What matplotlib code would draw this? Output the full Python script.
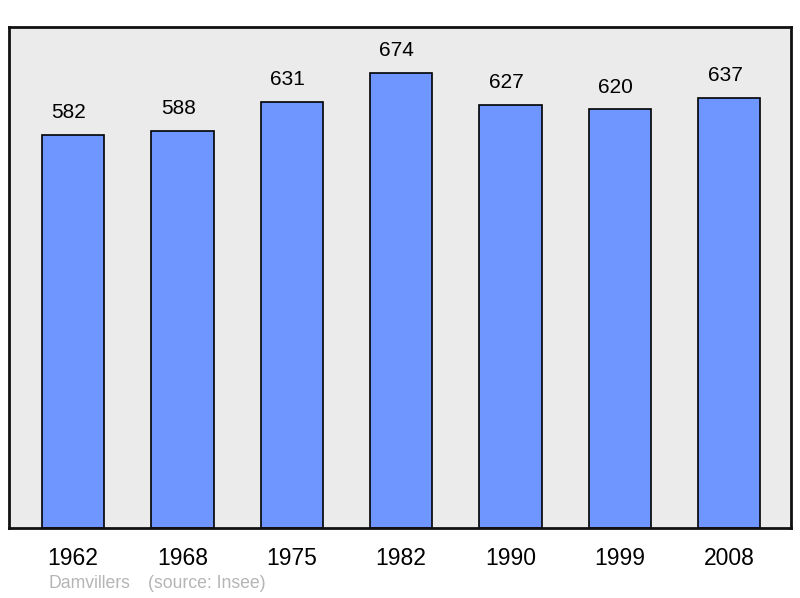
import matplotlib
matplotlib.use("Agg")
import matplotlib.pyplot as plt

years = ["1962", "1968", "1975", "1982", "1990", "1999", "2008"]
population = [582, 588, 631, 674, 627, 620, 637]

plt.rcParams['font.family'] = ['Liberation Sans', 'DejaVu Sans']

fig = plt.figure(figsize=(8, 5.98), dpi=100)
ax = fig.add_axes([9 / 800, 70 / 598, 782 / 800, 501 / 598])
ax.set_facecolor("#ebebeb")

x = range(len(years))
ax.bar(x, population, width=0.57, color="#6f96ff", edgecolor="black", linewidth=1.2, zorder=2)

for xi, v in zip(x, population):
    ax.annotate(str(v), (xi, v), xytext=(-3, 16), textcoords="offset points",
                ha="center", va="center", fontsize=15)

ax.set_xlim(-0.585, 6.565)
ax.set_ylim(0, 742)
ax.set_yticks([])
ax.set_xticks(list(x))
ax.set_xticklabels(years, fontsize=16.5)
ax.tick_params(axis="x", length=0, pad=13.5)
for s in ax.spines.values():
    s.set_linewidth(2)
    s.set_color("#111111")

fig.text(48 / 800, 1 - 584 / 598, "Damvillers", color="#b5b5b5", fontsize=12.7, va="center")
fig.text(148 / 800, 1 - 584 / 598, "(source: Insee)", color="#b5b5b5", fontsize=12.7, va="center")

fig.savefig("out.png", dpi=100)
